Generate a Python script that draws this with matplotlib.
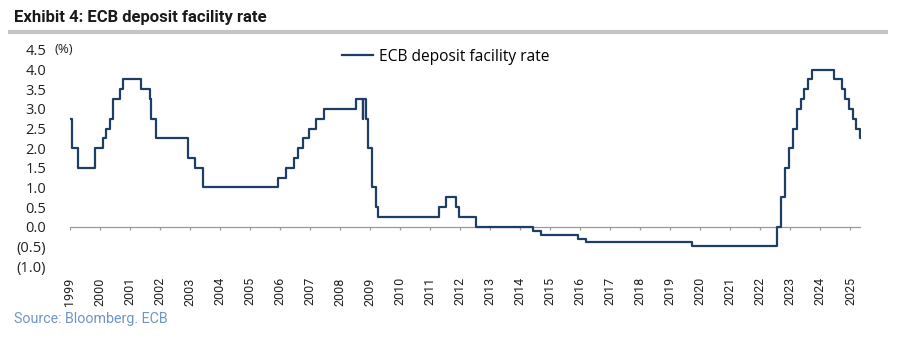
import matplotlib.pyplot as plt
import pandas as pd
from matplotlib.lines import Line2D

# ECB deposit facility rate: change dates and new rate (%)
change_dates = [
    '1999-01-01', '1999-01-22', '1999-04-09', '1999-11-05', '2000-02-04',
    '2000-03-17', '2000-04-28', '2000-06-09', '2000-09-01', '2000-10-06',
    '2001-05-11', '2001-08-31', '2001-09-18', '2001-11-09', '2002-12-06',
    '2003-03-07', '2003-06-06', '2005-12-06', '2006-03-08', '2006-06-15',
    '2006-08-09', '2006-10-11', '2006-12-13', '2007-03-14', '2007-06-13',
    '2008-07-09', '2008-10-08', '2008-10-09', '2008-11-12', '2008-12-10',
    '2009-01-21', '2009-03-11', '2009-04-08', '2011-04-13', '2011-07-13',
    '2011-11-09', '2011-12-14', '2012-07-11', '2014-06-11', '2014-09-10',
    '2015-12-09', '2016-03-16', '2019-09-18', '2022-07-27', '2022-09-14',
    '2022-11-02', '2022-12-21', '2023-02-08', '2023-03-22', '2023-05-10',
    '2023-06-21', '2023-08-02', '2023-09-20', '2024-06-12', '2024-09-18',
    '2024-10-23', '2024-12-18', '2025-02-05', '2025-03-12', '2025-04-23',
    '2025-05-10',
]
rates = [
    2.75, 2.00, 1.50, 2.00, 2.25,
    2.50, 2.75, 3.25, 3.50, 3.75,
    3.50, 3.25, 2.75, 2.25, 1.75,
    1.50, 1.00, 1.25, 1.50, 1.75,
    2.00, 2.25, 2.50, 2.75, 3.00,
    3.25, 2.75, 3.25, 2.75, 2.00,
    1.00, 0.50, 0.25, 0.50, 0.75,
    0.50, 0.25, 0.00, -0.10, -0.20,
    -0.30, -0.40, -0.50, 0.00, 0.75,
    1.50, 2.00, 2.50, 3.00, 3.25,
    3.50, 3.75, 4.00, 3.75, 3.50,
    3.25, 3.00, 2.75, 2.50, 2.25,
    2.25,
]
years = list(range(1999, 2026))
y_ticks = [-1.0, -0.5, 0.0, 0.5, 1.0, 1.5, 2.0, 2.5, 3.0, 3.5, 4.0, 4.5]

dates = pd.to_datetime(change_dates)
line_color = '#1d3f66'

fig = plt.figure(figsize=(9.16, 3.4), dpi=100)
ax = fig.add_axes([0.0764, 0.2176, 0.8636, 0.6354])

ax.step(dates, rates, where='post', color=line_color, lw=1.6,
        label='ECB deposit facility rate')

ax.set_ylim(-1.0, 4.5)
ax.set_xlim(pd.Timestamp('1999-01-01'), pd.Timestamp('2025-05-10'))

# zero line with small downward year ticks
ax.axhline(0, color='#9a9a9a', lw=0.9, zorder=1)
year_pos = pd.to_datetime([f'{y}-01-01' for y in years])
ax.vlines(year_pos, -0.09, 0, color='#9a9a9a', lw=0.9, zorder=1)

for s in ax.spines.values():
    s.set_visible(False)

ax.set_yticks(y_ticks)
ax.set_yticklabels([f'({abs(v):.1f})' if v < 0 else f'{v:.1f}' for v in y_ticks],
                   fontsize=10.5, family='Open Sans', color='#222222')
ax.tick_params(axis='y', length=0, pad=17)

ax.set_xticks(year_pos)
ax.set_xticklabels([str(y) for y in years], rotation=90, fontsize=9,
                   family='Roboto', color='#222222')
ax.tick_params(axis='x', length=0, pad=8)

ax.text(-0.019, 1.0, '(%)', transform=ax.transAxes, fontsize=9.5,
        family='Open Sans', color='#222222', va='center', ha='left')

leg = ax.legend(loc='upper center', bbox_to_anchor=(0.475, 1.07), frameon=False,
                prop={'family': 'Open Sans', 'size': 11.2}, handlelength=2.0,
                handletextpad=0.4)

fig.text(0.015, 0.935, 'Exhibit 4: ECB deposit facility rate', fontsize=12,
         fontweight='bold', family='Roboto', color='#1a1a1a')
fig.add_artist(Line2D([0.011, 0.967], [0.905, 0.905], color='#c4c4c4', lw=3))
fig.text(0.015, 0.05, 'Source: Bloomberg. ECB', fontsize=10.3,
         family='Roboto', color='#6f95c8')

fig.savefig('out.png', dpi=100)
